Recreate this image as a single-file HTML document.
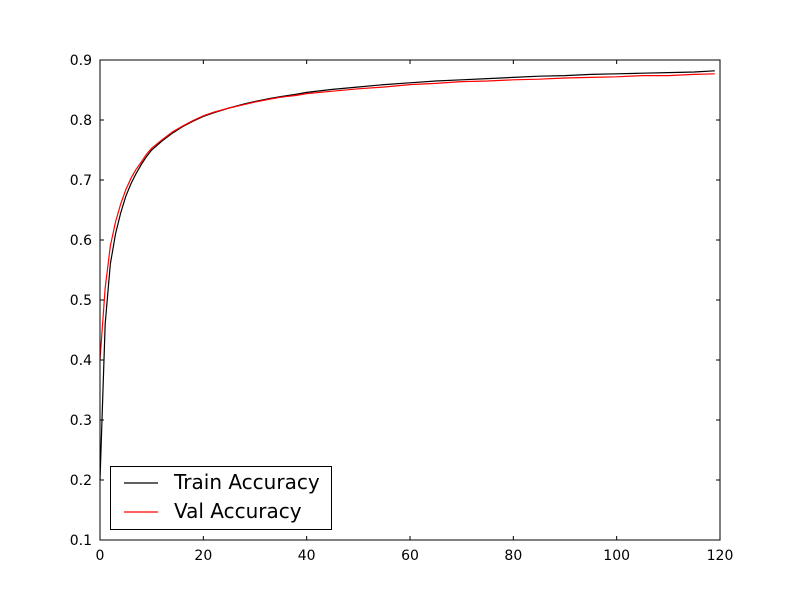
<!DOCTYPE html>
<html><head><meta charset="utf-8"><style>
body{margin:0;background:#fff}
svg text{font-family:"DejaVu Sans","Liberation Sans",sans-serif;font-size:14px}
</style></head><body>
<svg id="chart" width="800" height="600">
<rect width="800" height="600" fill="#fff"/>
<g id="plot"></g>
</svg>
<script>
const epochs=[0,1,2,3,4,5,6,7,8,9,10,12,14,16,18,20,22,25,28,30,33,35,38,40,45,50,55,60,65,70,75,80,85,90,95,100,105,110,115,119];
const trainAcc=[0.20,0.46,0.56,0.61,0.645,0.673,0.694,0.711,0.726,0.739,0.750,0.765,0.778,0.789,0.798,0.806,0.812,0.820,0.827,0.831,0.836,0.839,0.843,0.846,0.851,0.855,0.859,0.862,0.865,0.867,0.869,0.871,0.873,0.874,0.876,0.877,0.878,0.879,0.880,0.882];
const valAcc=[0.40,0.52,0.59,0.630,0.660,0.684,0.703,0.718,0.730,0.743,0.753,0.767,0.780,0.790,0.799,0.807,0.813,0.820,0.826,0.830,0.835,0.838,0.841,0.844,0.848,0.852,0.855,0.859,0.861,0.864,0.865,0.867,0.868,0.870,0.871,0.872,0.874,0.874,0.876,0.877];
const xTicks=[0,20,40,60,80,100,120];
const yTicks=[0.1,0.2,0.3,0.4,0.5,0.6,0.7,0.8,0.9];
const L=100,R=720,T=60,B=540;
const sx=v=>L+(v-0)/(120-0)*(R-L);
const sy=v=>B-(v-0.1)/(0.9-0.1)*(B-T);
const NS="http://www.w3.org/2000/svg";
const g=document.getElementById('plot');
function mk(t,a,p){const e=document.createElementNS(NS,t);for(const k in a)e.setAttribute(k,a[k]);(p||g).appendChild(e);return e;}
function line(data,color,name){
  const d=epochs.map((e,i)=>(i?'L':'M')+sx(e).toFixed(2)+','+sy(data[i]).toFixed(2)).join(' ');
  const p=mk('path',{d:d,fill:'none',stroke:color,'stroke-width':1.2});
  
  
}
line(trainAcc,'#000','train-accuracy-line');
line(valAcc,'#f00','val-accuracy-line');
const frame=mk('rect',{x:L,y:T,width:R-L,height:B-T,fill:'none',stroke:'#000','stroke-width':1});


xTicks.forEach(v=>{
  const x=sx(v);
  mk('line',{x1:x,x2:x,y1:B,y2:B-4,stroke:'#000'});
  mk('line',{x1:x,x2:x,y1:T,y2:T+4,stroke:'#000'});
  const t=mk('text',{x:x,y:B+20,'text-anchor':'middle'});t.textContent=v;
  
  
});
yTicks.forEach(v=>{
  const y=sy(v);
  mk('line',{x1:L,x2:L+4,y1:y,y2:y,stroke:'#000'});
  mk('line',{x1:R,x2:R-4,y1:y,y2:y,stroke:'#000'});
  const t=mk('text',{x:L-8,y:y+5,'text-anchor':'end'});t.textContent=v.toFixed(1);
  
  
});
const lg=mk('g',{});


mk('rect',{x:110.5,y:466.5,width:221,height:63,fill:'#fff',stroke:'#000'},lg);
mk('line',{x1:124,x2:158,y1:483,y2:483,stroke:'#000','stroke-width':1.2},lg);
mk('line',{x1:124,x2:158,y1:512,y2:512,stroke:'#f00','stroke-width':1.2},lg);
const t1=mk('text',{x:174,y:489,style:'font-size:20px'},lg);t1.textContent='Train Accuracy';


const t2=mk('text',{x:174,y:518,style:'font-size:20px'},lg);t2.textContent='Val Accuracy';


</script>
</body></html>
